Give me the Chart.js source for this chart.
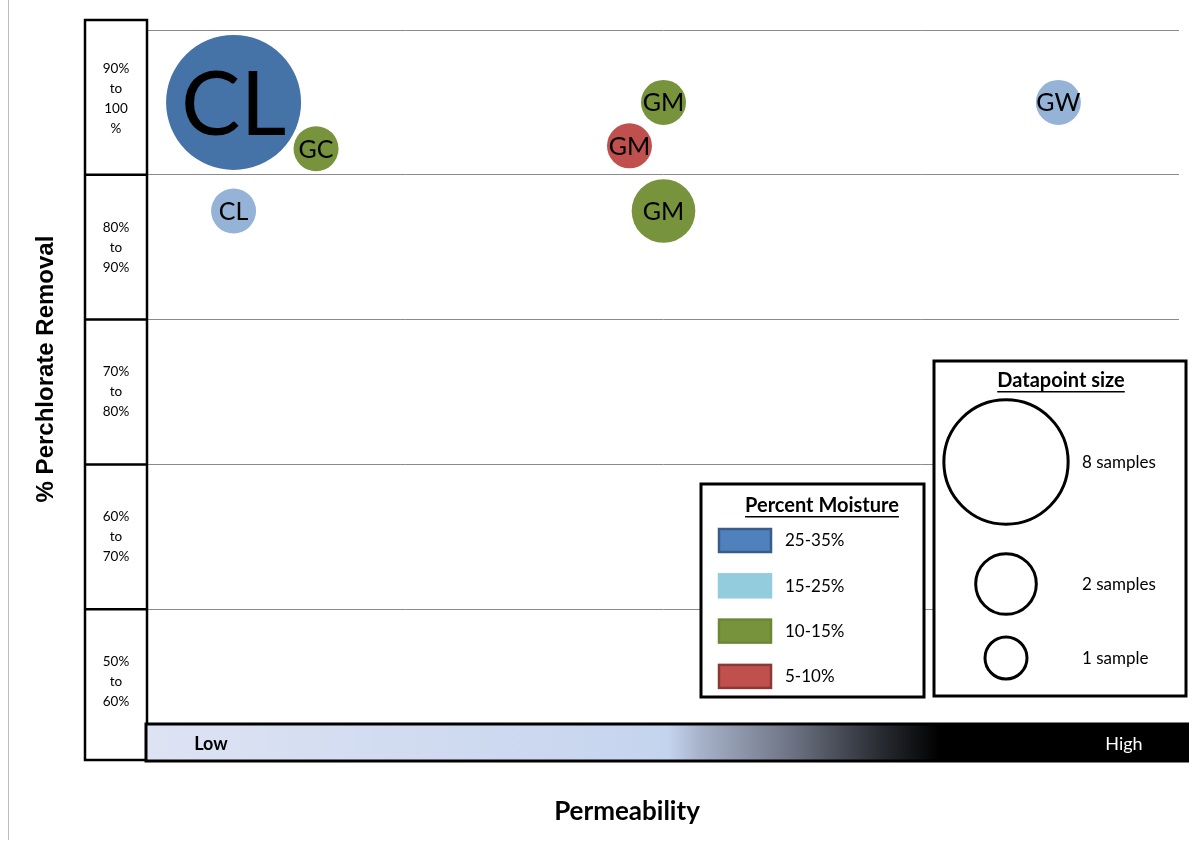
<!DOCTYPE html>
<html>
<head>
<meta charset="utf-8">
<script src="https://cdn.jsdelivr.net/npm/chart.js@4/dist/chart.umd.min.js"></script>
<style>
    body { margin: 0; background: #fff; }
    #wrap { width: 1189px; height: 844px; position: relative; }
</style>
</head>
<body>
<div id="wrap"><canvas id="c" width="1189" height="844"></canvas></div>
<script>
/* Perchlorate removal vs permeability bubble chart */

// ---- data ----
var soilLabels = ["CL", "GC", "CL", "GM", "GM", "GM", "GW"];
var permeability = [0.83, 1.63, 0.83, 5.0, 4.67, 5.0, 8.83];   // relative position Low..High (0-10)
var removal = [95, 91.8, 87.5, 95, 92, 87.5, 95];              // % perchlorate removal
var samples = [9, 1, 1, 1, 1, 2, 1];
var moisture = ["25-35%", "10-15%", "15-25%", "10-15%", "5-10%", "10-15%", "15-25%"];

var bandLabels = [
    ["90%", "to", "100", "%"],
    ["80%", "to", "90%"],
    ["70%", "to", "80%"],
    ["60%", "to", "70%"],
    ["50%", "to", "60%"]
];
var bandCenters = [95, 85, 75, 65, 55];

var moistureClasses = ["25-35%", "15-25%", "10-15%", "5-10%"];
var sizeLegendSamples = [8, 2, 1];
var sizeLegendLabels = ["8 samples", "2 samples", "1 sample"];

// ---- styles ----
var FONT = "Lato, 'Open Sans', sans-serif";
var bubbleColors = {
    "25-35%": "#4572A7",
    "15-25%": "#95B3D7",
    "10-15%": "#77933C",
    "5-10%": "#C0504D"
};
var swatchFill = { "25-35%": "#4F81BD", "15-25%": "#93CDDD", "10-15%": "#77933C", "5-10%": "#C0504D" };
var swatchEdge = { "25-35%": "#385D8A", "15-25%": "#93CDDD", "10-15%": "#6B8736", "5-10%": "#8C3836" };
var labelFontPx = [89, 25, 25, 25, 25, 25, 25];
var RADIUS_PER_SQRT_SAMPLE = 22.5;

function radiusFor(n) { return RADIUS_PER_SQRT_SAMPLE * Math.sqrt(n); }

var points = soilLabels.map(function (s, i) {
    return { x: permeability[i], y: removal[i], r: radiusFor(samples[i]) };
});

/* text inside each bubble */
var bubbleLabelPlugin = {
    id: "bubbleLabels",
    afterDatasetsDraw: function (chart) {
        var ctx = chart.ctx;
        var meta = chart.getDatasetMeta(0);
        ctx.save();
        ctx.fillStyle = "#000";
        ctx.textAlign = "center";
        ctx.textBaseline = "middle";
        meta.data.forEach(function (el, i) {
            ctx.font = labelFontPx[i] + "px " + FONT;
            ctx.fillText(soilLabels[i], el.x, el.y + labelFontPx[i] * 0.04);
        });
        ctx.restore();
    }
};

function underlinedTitle(ctx, text, cx, cy) {
    ctx.font = "bold 20px " + FONT;
    ctx.textAlign = "center";
    ctx.textBaseline = "middle";
    ctx.fillStyle = "#000";
    ctx.fillText(text, cx, cy);
    var w = ctx.measureText(text).width;
    ctx.fillRect(cx - w / 2, cy + 10, w, 1.5);
}

/* frame, band boxes, gradient bar, titles, legends */
var decorPlugin = {
    id: "decor",
    afterDraw: function (chart) {
        var ctx = chart.ctx;
        var y = chart.scales.y;
        ctx.save();

        // outer left frame line
        ctx.strokeStyle = "#BDBDBD";
        ctx.lineWidth = 1;
        ctx.beginPath();
        ctx.moveTo(8.5, 0);
        ctx.lineTo(8.5, 840);
        ctx.stroke();

        // y axis title
        ctx.save();
        ctx.translate(46, 369);
        ctx.rotate(-Math.PI / 2);
        ctx.font = "bold 24px 'Liberation Sans', Arial, sans-serif";
        ctx.fillStyle = "#000";
        ctx.textAlign = "center";
        ctx.textBaseline = "middle";
        ctx.fillText("% Perchlorate Removal", 0, 0);
        ctx.restore();

        // band label boxes
        var bx0 = 85, bx1 = 147;
        var edges = [y.getPixelForValue(100) - 10, y.getPixelForValue(90), y.getPixelForValue(80),
            y.getPixelForValue(70), y.getPixelForValue(60), y.getPixelForValue(50) + 6];
        ctx.strokeStyle = "#000";
        ctx.lineWidth = 2.5;
        ctx.strokeRect(bx0, edges[0], bx1 - bx0, edges[5] - edges[0]);
        ctx.beginPath();
        for (var k = 1; k < 5; k++) {
            ctx.moveTo(bx0, edges[k]);
            ctx.lineTo(bx1, edges[k]);
        }
        ctx.stroke();
        ctx.font = "13.5px " + FONT;
        ctx.fillStyle = "#000";
        ctx.textAlign = "center";
        ctx.textBaseline = "middle";
        bandLabels.forEach(function (lines, i) {
            var cy = y.getPixelForValue(bandCenters[i]);
            var lh = 20;
            var top = cy - (lines.length - 1) * lh / 2;
            if (i === 0) top -= 4;
            lines.forEach(function (t, j) {
                ctx.fillText(t, (bx0 + bx1) / 2, top + j * lh);
            });
        });

        // permeability gradient bar
        var gx0 = 146, gx1 = 1190, gy0 = 724, gy1 = 761;
        var grad = ctx.createLinearGradient(gx0, 0, gx1, 0);
        grad.addColorStop(0, "#DDE3F3");
        grad.addColorStop(0.5, "#C5D4EE");
        grad.addColorStop(0.53, "#A7B3CB");
        grad.addColorStop(0.62, "#6C7282");
        grad.addColorStop(0.7, "#2B2E35");
        grad.addColorStop(0.76, "#000000");
        grad.addColorStop(1, "#000000");
        ctx.fillStyle = grad;
        ctx.fillRect(gx0, gy0, gx1 - gx0, gy1 - gy0);
        ctx.lineWidth = 3;
        ctx.strokeStyle = "#000";
        ctx.strokeRect(gx0, gy0, gx1 - gx0, gy1 - gy0);
        ctx.font = "bold 18px " + FONT;
        ctx.fillStyle = "#000";
        ctx.textAlign = "center";
        ctx.fillText("Low", 211, 744);
        ctx.font = "18px " + FONT;
        ctx.fillStyle = "#fff";
        ctx.fillText("High", 1124, 744);

        // x axis title
        ctx.font = "bold 26px " + FONT;
        ctx.fillStyle = "#000";
        ctx.fillText("Permeability", 627, 812);

        // moisture legend
        ctx.fillStyle = "#fff";
        ctx.fillRect(701, 484, 223, 213);
        ctx.lineWidth = 3;
        ctx.strokeStyle = "#000";
        ctx.strokeRect(701, 484, 223, 213);
        underlinedTitle(ctx, "Percent Moisture", 822, 506);
        moistureClasses.forEach(function (m, i) {
            var sy = 528 + i * 45.3;
            ctx.fillStyle = swatchFill[m];
            ctx.strokeStyle = swatchEdge[m];
            ctx.lineWidth = 2.5;
            ctx.fillRect(719, sy + 1, 52, 23);
            ctx.strokeRect(719, sy + 1, 52, 23);
            ctx.font = "17px " + FONT;
            ctx.fillStyle = "#000";
            ctx.textAlign = "left";
            ctx.textBaseline = "middle";
            ctx.fillText(m, 785, sy + 13);
        });

        // datapoint size legend
        ctx.fillStyle = "#fff";
        ctx.fillRect(934, 361, 252, 335);
        ctx.lineWidth = 3;
        ctx.strokeStyle = "#000";
        ctx.strokeRect(934, 361, 252, 335);
        underlinedTitle(ctx, "Datapoint size", 1061, 381);
        var cys = [462, 584, 658];
        sizeLegendSamples.forEach(function (n, i) {
            ctx.beginPath();
            ctx.lineWidth = 3;
            ctx.strokeStyle = "#000";
            ctx.arc(1006, cys[i], radiusFor(n) - 1.5, 0, Math.PI * 2);
            ctx.stroke();
            ctx.font = "17px " + FONT;
            ctx.fillStyle = "#000";
            ctx.textAlign = "left";
            ctx.textBaseline = "middle";
            ctx.fillText(sizeLegendLabels[i], 1082, cys[i] + 1);
        });

        ctx.restore();
    }
};

new Chart(document.getElementById("c").getContext("2d"), {
    type: "bubble",
    data: {
        datasets: [{
            data: points,
            backgroundColor: moisture.map(function (m) { return bubbleColors[m]; }),
            borderWidth: 0,
            clip: false
        }]
    },
    options: {
        responsive: false,
        animation: false,
        events: [],
        layout: { autoPadding: false, padding: { left: 148, right: 10, top: 30, bottom: 90 } },
        plugins: { legend: { display: false }, tooltip: { enabled: false }, title: { display: false } },
        scales: {
            x: { type: "linear", min: 0, max: 10, display: false },
            y: {
                type: "linear", min: 50, max: 100,
                ticks: { display: false, stepSize: 10 },
                grid: { color: "#8A8A8A", lineWidth: 1, drawTicks: false },
                border: { display: false },
                afterFit: function (s) { s.width = 0; }
            }
        }
    },
    plugins: [bubbleLabelPlugin, decorPlugin]
});
</script>
</body>
</html>
